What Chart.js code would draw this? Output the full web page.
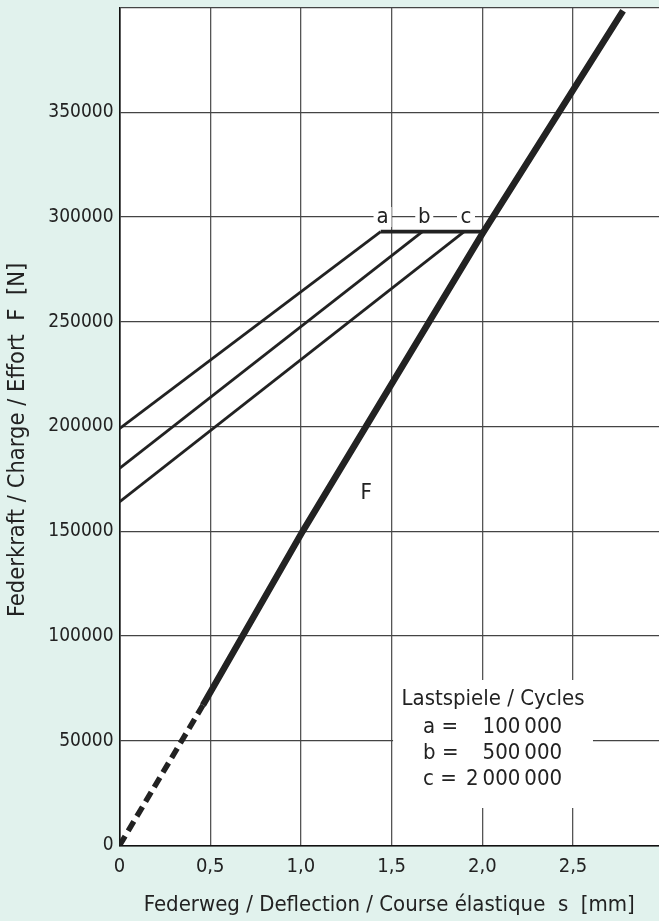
<!DOCTYPE html>
<html>
<head>
<meta charset="utf-8">
<title>Federkennlinie</title>
<script src="https://cdn.jsdelivr.net/npm/chart.js@4.4.1/dist/chart.umd.min.js"></script>
<style>
  html, body { margin: 0; padding: 0; background: #e1f2ed; }
  #wrap { width: 659px; height: 921px; position: relative; }
</style>
</head>
<body>
<div id="wrap"><canvas id="chart"></canvas></div>
<script>
// Achsen: Federweg s [mm] / Federkraft F [N]
var xTicks = [0, 0.5, 1.0, 1.5, 2.0, 2.5];
var xTickLabels = ['0', '0,5', '1,0', '1,5', '2,0', '2,5'];
var yTicks = [0, 50000, 100000, 150000, 200000, 250000, 300000, 350000, 400000];
var yTickLabels = ['0', '50000', '100000', '150000', '200000', '250000', '300000', '350000', ''];

// Kennlinie F (Anfang gestrichelt)
var fDashedX = [0, 0.46];
var fDashedY = [0, 67000];
var fSolidX = [0.46, 1.01, 2.0, 2.776];
var fSolidY = [67000, 150000, 292000, 398500];

// Dauerfestigkeit a, b, c
var cycleNames = ['a', 'b', 'c'];
var cycleStartY = [199000, 180000, 164000];
var cycleEndX = [1.44, 1.67, 1.90];
var limitY = 293000;
var limitEndX = 2.0;
var cycleCounts = ['100\u2009000', '500\u2009000', '2\u2009000\u2009000'];

var FONT = "'Liberation Sans Narrow', 'DejaVu Sans Condensed', 'Roboto Condensed', sans-serif";
var INK = '#222';

function pts(xs, ys) {
  return xs.map(function (x, i) { return { x: x, y: ys[i] }; });
}

var datasets = [
  { data: pts(fDashedX, fDashedY), borderColor: INK, borderWidth: 5.5, borderDash: [11, 6], borderCapStyle: 'butt' },
  { data: pts(fSolidX, fSolidY), borderColor: INK, borderWidth: 6.5, borderCapStyle: 'butt' }
];
cycleNames.forEach(function (n, i) {
  datasets.push({ data: [{ x: 0, y: cycleStartY[i] }, { x: cycleEndX[i], y: limitY }], borderColor: INK, borderWidth: 2.8 });
});
datasets.push({ data: [{ x: cycleEndX[0], y: limitY }, { x: limitEndX, y: limitY }], borderColor: INK, borderWidth: 3.6, borderCapStyle: 'butt' });

// Textfelder und weisse Flaechen
var notes = {
  id: 'notes',
  beforeDraw: function (chart) {
    var a = chart.chartArea, ctx = chart.ctx;
    ctx.save();
    ctx.fillStyle = '#fff';
    ctx.fillRect(a.left, a.top, a.right - a.left, a.bottom - a.top);
    ctx.restore();
  },
  beforeDatasetsDraw: function (chart) {
    var x = chart.scales.x, y = chart.scales.y, ctx = chart.ctx;
    ctx.save();
    ctx.fillStyle = '#fff';
    // Legendenkasten
    var bl = x.getPixelForValue(1.508), br = x.getPixelForValue(2.61);
    var bt = y.getPixelForValue(79000), bb = y.getPixelForValue(17900);
    ctx.fillRect(bl, bt, br - bl, bb - bt);
    // Hintergrund der Buchstaben a, b, c
    cycleNames.forEach(function (n, i) {
      var px = x.getPixelForValue(cycleEndX[i] + 0.01), py = y.getPixelForValue(300000);
      ctx.fillRect(px - 9, py - 10, 18, 20);
    });
    ctx.restore();
  },
  afterDatasetsDraw: function (chart) {
    var x = chart.scales.x, y = chart.scales.y, ctx = chart.ctx;
    ctx.save();
    ctx.fillStyle = INK;
    ctx.font = '22px ' + FONT;
    ctx.textBaseline = 'middle';
    ctx.textAlign = 'center';
    cycleNames.forEach(function (n, i) {
      ctx.fillText(n, x.getPixelForValue(cycleEndX[i] + 0.01), y.getPixelForValue(300000));
    });
    ctx.fillText('F', x.getPixelForValue(1.36), y.getPixelForValue(168300));

    var bl = x.getPixelForValue(1.508), bt = y.getPixelForValue(79000);
    ctx.textBaseline = 'alphabetic';
    ctx.fillText('Lastspiele / Cycles', bl + 100, bt + 25);
    cycleNames.forEach(function (n, i) {
      var base = bt + 53 + i * 26;
      ctx.textAlign = 'left';
      ctx.fillText(n + ' =', bl + 30, base);
      ctx.textAlign = 'right';
      ctx.fillText(cycleCounts[i], bl + 169, base);
    });
    ctx.restore();
  }
};

new Chart(document.getElementById('chart'), {
  type: 'scatter',
  data: { datasets: datasets },
  plugins: [notes],
  options: {
    responsive: true,
    maintainAspectRatio: false,
    animation: false,
    showLine: true,
    elements: { point: { radius: 0, hoverRadius: 0 }, line: { tension: 0 } },
    layout: { padding: { top: 7.5, right: 0, bottom: 0, left: 0 } },
    plugins: { legend: { display: false }, tooltip: { enabled: false } },
    scales: {
      x: {
        type: 'linear', min: 0, max: 2.974,
        afterBuildTicks: function (s) { s.ticks = xTicks.map(function (v) { return { value: v }; }); },
        afterFit: function (s) { s.height = 75.5; s.paddingLeft = 0; s.paddingRight = 0; },
        ticks: {
          padding: 9, color: INK, font: { family: FONT, size: 20 }, maxRotation: 0,
          callback: function (v, i) { return xTickLabels[i]; }
        },
        grid: { color: '#555', lineWidth: 1.3, drawTicks: false },
        border: { color: '#111', width: 1.6 },
        title: {
          display: true, text: 'Federweg / Deflection / Course élastique  s  [mm]',
          color: INK, font: { family: FONT, size: 22 }, padding: { top: 0, bottom: 3 }
        }
      },
      y: {
        type: 'linear', min: 0, max: 400000,
        afterBuildTicks: function (s) { s.ticks = yTicks.map(function (v) { return { value: v }; }); },
        afterFit: function (s) { s.width = 119.5; s.paddingTop = 0; s.paddingBottom = 0; },
        ticks: {
          padding: 6, color: INK, font: { family: FONT, size: 19 },
          callback: function (v, i) { return yTickLabels[i]; }
        },
        grid: { color: '#444', lineWidth: 1.3, drawTicks: false },
        border: { color: '#111', width: 1.6 },
        title: {
          display: true, text: 'Federkraft / Charge / Effort  F  [N]    ',
          color: INK, font: { family: FONT, size: 23.5 }, padding: { top: 4, bottom: 0 }
        }
      }
    }
  }
});
</script>
</body>
</html>
